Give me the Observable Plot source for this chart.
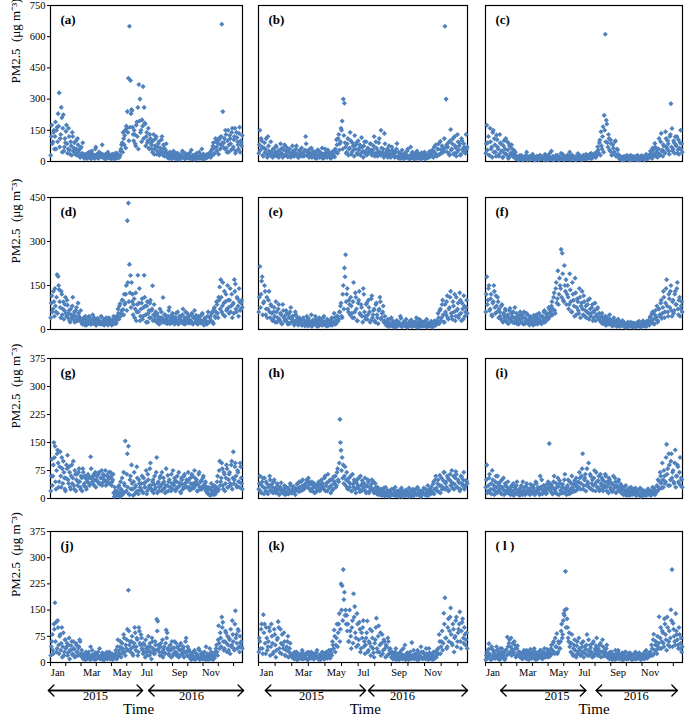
<!DOCTYPE html>
<html><head><meta charset="utf-8">
<script src="https://cdn.jsdelivr.net/npm/d3@7"></script>
<script src="https://cdn.jsdelivr.net/npm/@observablehq/plot@0.6"></script>
<style>
body{margin:0;background:#fff;}
#wrap{position:relative;width:685px;height:722px;overflow:hidden;font-family:"Liberation Serif","Times New Roman",serif;}
#wrap svg{position:absolute;}
</style></head><body><div id="wrap"></div>
<script>
// PM2.5 (ug m-3), Jan 2015 -> Dec 2016; two interleaved readings per 4-day step
const panelA = [30,175,95,150,120,60,165,230,330,110,260,45,225,70,90,175,40,160,55,95,30,120,65,45,100,30,80,55,20,70,40,
25,15,30,20,40,35,18,28,50,22,30,15,70,35,20,45,25,30,80,20,15,35,25,40,18,30,22,12,35,20,28,15,40,25,18,30,
60,90,140,80,150,170,240,400,650,390,250,165,
100,130,75,190,260,370,300,150,200,360,260,180,120,90,160,60,110,
80,45,130,60,110,35,70,95,40,55,120,30,65,45,85,
25,40,15,30,20,35,50,18,28,12,40,22,30,15,25,45,20,12,30,18,35,25,15,55,20,30,10,25,40,18,22,15,30,60,20,12,25,18,35,28,
30,45,25,60,90,40,110,70,100,35,115,80,660,240,
90,60,130,45,150,80,110,55,160,70,120,40,140,95,60,165,100,75];
const panelA2 = [120,85,140,60,190,150,95,170,70,130,210,160,50,110,145,85,60,120,35,75,140,50,90,35,60,110,45,25,65,35,90,
20,35,28,15,22,45,30,12,38,25,18,60,32,20,15,28,40,22,35,18,25,12,30,45,20,16,28,35,22,14,40,26,18,30,22,50,
80,45,110,125,65,160,140,100,165,230,245,130,
150,85,175,120,60,195,140,95,170,110,185,75,140,100,65,130,90,
60,100,35,75,120,50,85,30,65,105,45,80,25,55,40,
18,30,45,22,12,35,25,15,40,20,28,10,32,18,50,24,14,38,20,28,16,42,22,12,30,18,26,35,14,20,45,18,28,12,36,22,16,30,20,25,
40,20,55,75,35,65,95,50,85,105,60,120,90,70,
110,150,65,100,45,125,85,140,60,105,160,50,115,80,135,45,90,125];
const panelB = [40,150,110,70,25,90,60,35,120,50,30,
45,20,60,35,75,25,50,30,85,40,20,55,30,70,25,45,60,20,35,50,25,40,75,30,20,55,35,25,45,30,120,
30,50,20,40,65,25,35,18,45,30,55,20,35,40,15,30,60,25,20,45,30,15,40,25,50,
60,105,40,130,85,160,195,300,280,
70,45,110,60,140,35,90,55,125,80,40,100,65,30,115,50,75,40,95,35,60,45,
85,30,55,120,40,65,25,90,45,150,35,60,135,30,50,20,75,40,25,55,30,20,45,
86,25,15,40,20,30,12,35,20,50,15,25,70,18,30,12,40,22,15,35,25,10,30,20,45,15,28,18,35,22,
30,55,20,45,80,25,60,35,97,40,70,50,650,300,
45,90,30,154,60,110,40,75,25,130,55,85,35,100,50,70,40,60];
const panelB2 = [80,55,100,30,65,45,110,20,75,40,95,
30,60,25,45,70,35,20,55,40,65,28,80,35,50,22,60,40,30,75,25,45,60,35,20,50,40,65,30,25,55,85,
45,25,60,35,20,50,30,40,15,55,28,45,22,65,35,18,42,30,55,25,38,20,48,30,22,
45,80,110,55,95,150,60,125,90,
40,85,30,65,100,45,75,25,60,90,35,55,80,40,70,20,95,50,30,65,45,85,
55,40,75,25,95,35,50,110,30,65,45,20,85,40,60,30,50,20,70,35,45,25,60,
20,45,30,15,55,25,40,18,30,60,22,12,35,45,20,28,15,50,25,35,18,42,20,30,12,38,25,20,48,30,
45,25,70,40,30,60,85,35,55,75,45,110,65,80,
70,40,100,55,85,35,120,65,45,95,75,30,110,60,85,45,130,70];
const panelC = [40,174,90,30,160,60,20,150,110,45,127,70,25,130,85,50,20,100,60,35,95,15,75,40,80,25,55,30,
15,25,10,20,12,30,18,8,22,15,45,12,20,10,25,15,30,8,18,12,22,10,28,15,12,20,10,35,15,8,25,12,18,50,10,20,15,28,12,22,
8,18,40,15,25,10,20,12,30,15,45,10,18,25,12,20,8,22,15,30,12,18,10,25,15,35,12,20,28,15,40,18,25,30,20,45,
71,40,103,143,60,167,222,612,198,90,130,
55,103,30,80,45,95,25,60,35,
15,25,10,20,8,18,12,30,15,10,22,8,15,25,12,10,18,30,8,15,20,12,25,10,18,35,15,22,
30,50,20,65,35,87,25,60,40,110,30,135,55,80,45,143,70,100,50,120,278,159,60,90,119,75,40,105,65,150,85];
const panelC2 = [85,55,120,30,95,70,140,45,80,25,105,60,35,90,50,20,75,40,110,30,55,85,25,65,35,50,20,45,
12,20,8,28,15,10,22,18,12,30,8,15,25,10,18,35,12,20,8,25,15,10,30,18,22,12,8,20,28,15,10,40,18,12,25,8,20,15,30,10,
22,12,18,35,8,15,25,12,20,10,28,15,30,18,10,22,12,38,15,25,10,20,30,15,22,12,28,18,35,20,15,30,25,40,22,35,
55,90,30,75,120,45,150,95,180,70,110,50,85,35,65,45,100,30,55,25,
12,20,8,15,25,10,18,12,22,8,30,15,10,20,12,25,8,18,15,10,28,12,20,8,15,25,12,30,
25,40,15,55,30,70,45,20,60,35,95,50,25,75,40,110,60,85,35,130,70,50,100,40,80,120,55,35,90,60,45];
const panelD = [40,115,70,95,140,60,187,181,136,75,130,50,94,65,110,45,83,55,30,70,40,110,50,25,65,35,90,45,30,
25,18,35,20,45,15,28,22,40,18,30,50,20,25,15,35,22,28,18,45,20,30,15,25,40,18,22,35,20,15,28,45,25,20,
45,70,35,88,55,100,68,120,90,
150,371,431,222,184,
160,120,85,40,125,60,185,90,30,70,105,45,185,80,25,95,55,40,100,65,149,50,
35,60,25,45,20,70,30,40,109,25,50,35,20,45,75,30,22,55,35,18,40,28,60,20,35,45,25,70,30,18,40,55,22,35,28,50,20,40,65,25,30,18,45,35,22,50,28,15,40,30,20,60,
25,45,30,60,20,75,40,95,55,110,145,
170,60,160,90,45,120,70,100,55,140,80,40,90,170,155,60,105,45,95,70,100];
const panelD2 = [90,60,130,45,80,110,55,150,95,40,120,70,35,85,55,100,40,65,25,50,80,35,60,45,75,30,55,40,65,
30,22,40,15,28,35,20,45,25,18,32,22,40,28,15,38,25,30,20,42,18,28,35,22,30,15,40,25,20,32,18,38,28,22,
35,55,80,45,65,100,50,85,120,65,160,95,125,75,
95,50,105,70,30,85,60,140,45,90,35,75,110,50,80,25,65,90,40,70,30,85,
45,28,55,35,18,40,60,25,35,50,22,45,30,65,20,38,50,28,42,25,55,30,18,45,35,25,50,20,40,60,28,35,45,22,30,55,18,40,25,48,35,20,42,30,25,55,20,35,28,18,45,25,
40,30,55,25,70,45,60,85,40,100,70,
110,80,50,130,95,65,150,75,100,60,120,85,55,130,70,110,80,140,65,90,75];
const panelE = [60,215,120,180,90,150,50,110,70,130,40,
80,30,60,45,95,25,70,35,55,20,85,40,30,65,25,50,20,75,35,45,15,60,30,40,25,
20,35,15,40,25,18,45,12,30,22,50,15,28,20,35,10,25,40,18,30,15,45,22,12,35,20,28,15,40,25,55,18,30,45,35,
60,90,40,150,210,255,120,70,100,50,
80,40,160,60,110,30,90,130,50,75,25,120,45,85,35,100,60,30,115,50,70,25,90,40,65,110,35,55,80,30,
25,15,35,10,20,40,12,28,18,8,30,15,22,45,10,18,25,12,35,8,20,15,30,10,25,18,12,40,15,8,22,30,12,18,25,10,35,15,20,12,28,8,18,30,15,
30,55,20,70,40,100,25,85,50,115,35,75,130,45,95,60,30,110,70,40,125,55,90,35,80,60,100];
const panelE2 = [110,75,165,50,95,130,70,40,100,60,85,
55,35,75,25,60,40,85,30,50,20,65,45,35,55,18,40,60,25,45,30,20,50,35,15,40,
28,15,35,22,12,30,20,38,15,25,10,32,20,45,18,28,12,35,22,15,40,25,18,30,12,28,20,35,15,25,40,20,45,28,60,
80,45,120,70,180,95,140,60,85,110,
55,95,40,125,70,30,100,55,85,45,140,60,35,90,50,75,25,105,40,65,30,85,50,20,70,95,40,60,25,45,
15,28,10,20,35,12,22,8,18,30,12,25,15,38,10,20,28,12,18,8,25,15,32,10,20,14,28,8,22,35,12,18,10,25,15,30,8,20,12,25,18,10,22,15,28,
20,40,65,30,85,50,25,60,95,40,70,110,55,35,80,120,45,65,90,50,100,30,70,115,45,75,55];
const panelF = [60,180,100,150,70,120,45,95,130,55,80,110,40,
60,35,85,25,50,70,30,45,20,65,35,55,25,40,75,30,20,45,35,60,25,50,18,40,30,55,22,35,45,20,30,15,40,25,50,18,35,28,45,20,30,60,25,40,55,35,70,45,
80,50,110,65,140,90,200,120,150,273,260,100,218,130,85,
150,70,190,95,60,120,80,175,50,105,65,140,40,90,70,115,45,80,60,100,35,70,55,85,40,65,30,50,75,35,
40,25,55,30,20,45,15,35,25,50,18,30,12,40,22,28,15,35,10,25,18,30,12,20,8,15,25,10,18,12,22,8,15,20,10,25,12,18,8,15,30,12,20,10,25,
30,15,45,25,60,20,50,35,80,30,70,45,100,55,130,40,90,170,60,120,75,150,45,100,65,130,85,160,50,110,70,95];
const panelF2 = [120,85,140,65,105,50,90,150,75,115,60,95,70,
45,80,30,55,40,65,25,50,38,72,28,45,60,22,40,55,30,18,48,35,25,42,60,20,35,50,28,15,40,32,22,48,18,35,42,25,55,30,20,45,38,65,28,50,40,75,55,60,
95,70,125,55,160,105,85,175,140,110,190,95,150,170,120,
110,85,135,60,160,100,45,125,75,95,55,110,80,130,50,95,65,40,85,55,105,45,75,30,60,90,45,70,40,55,
30,45,20,38,28,15,42,25,18,35,22,12,30,20,25,10,32,15,22,12,18,28,10,20,14,8,18,12,25,10,15,22,12,8,18,14,28,10,20,15,12,22,18,28,15,
20,40,28,55,35,18,65,42,25,70,50,90,38,75,110,60,140,80,45,105,130,65,95,55,120,85,140,70,100,45,80,60];
const panelG = [20,105,60,150,140,25,120,95,45,125,30,80,100,55,20,90,
116,40,70,25,90,55,35,75,20,65,45,80,30,60,20,70,40,55,25,
45,60,35,112,55,40,65,50,30,60,45,70,40,55,35,65,50,75,45,60,40,55,70,35,50,
15,30,8,
20,10,35,5,25,55,15,40,154,20,120,140,10,60,90,25,45,12,35,85,20,50,30,
25,60,15,40,30,75,20,50,35,95,25,45,15,60,30,110,40,20,55,35,70,25,45,15,80,35,20,50,30,65,25,40,55,20,45,30,70,35,15,50,25,60,40,30,
45,70,30,55,25,60,40,75,35,50,20,65,30,45,25,55,35,40,20,
15,30,10,25,40,15,20,35,12,
30,60,25,100,45,95,35,70,20,55,80,30,65,40,90,25,125,50,95,35,75,45,30,85,40];
const panelG2 = [60,35,90,110,45,75,130,30,85,60,110,40,70,25,55,80,
50,85,30,60,40,100,25,65,50,35,70,45,25,55,80,35,60,30,50,
65,40,55,80,45,60,35,70,50,45,65,38,55,75,42,60,48,35,62,50,70,40,58,45,65,
5,20,12,
8,30,15,45,22,10,70,35,18,65,30,12,50,25,40,8,70,30,18,55,12,40,22,
40,18,55,30,45,12,65,28,80,35,20,50,38,25,70,15,45,30,60,20,40,55,28,35,18,62,45,30,20,40,75,35,48,25,60,30,42,18,55,38,28,65,32,50,
30,50,22,40,65,35,28,55,45,20,38,70,25,48,32,60,28,45,30,
22,12,28,8,20,32,10,25,18,
45,20,75,35,55,80,25,65,40,90,30,50,70,35,100,55,40,85,60,30,70,45,95,55,25];
const panelH = [25,60,15,45,30,55,20,40,12,35,50,18,30,45,22,15,40,25,10,30,20,
15,25,10,30,18,12,22,35,15,20,28,10,25,40,18,30,45,22,35,28,40,50,30,45,25,38,20,35,15,30,22,40,25,30,50,
40,25,60,35,20,45,30,15,50,25,40,60,35,80,45,212,129,110,90,60,35,70,
25,55,40,20,65,30,45,15,50,35,25,60,20,40,30,55,15,35,45,20,30,50,25,15,40,20,30,10,
15,25,8,20,12,30,10,18,5,22,15,10,25,8,18,12,20,5,15,28,10,18,8,22,12,15,5,20,10,25,8,15,12,30,10,18,5,20,15,12,25,8,35,15,20,
30,15,45,25,60,20,50,35,15,55,30,70,25,45,60,20,50,35,75,40,25,55,65,30,45,20,60,40,50,25,35,45];
const panelH2 = [40,20,35,55,12,28,45,18,30,60,22,38,15,50,28,20,35,12,25,42,18,
22,35,18,12,28,20,40,15,25,32,18,22,38,28,45,20,32,50,25,35,42,30,55,38,20,45,28,40,32,18,35,45,20,38,28,
30,55,20,42,65,28,50,35,22,58,45,30,70,50,95,150,75,55,40,85,50,28,
45,30,60,20,38,50,25,42,30,55,18,35,48,25,40,20,32,50,15,28,38,22,45,18,30,12,25,18,
10,20,12,28,6,15,22,10,18,8,25,12,15,30,8,20,10,15,25,5,18,12,22,8,15,28,10,18,6,20,12,25,10,15,22,8,18,12,28,10,15,20,8,25,12,
20,38,12,50,28,40,18,62,35,25,48,70,40,30,55,22,65,45,28,60,38,72,30,50,42,25,58,35,70,30,48,40];
const panelI = [30,90,20,55,15,40,75,25,10,45,30,60,20,35,15,50,25,10,40,20,30,
15,25,10,35,20,8,30,15,45,12,25,18,35,10,20,30,12,40,15,22,10,28,15,35,20,12,40,18,25,10,30,50,15,22,35,12,25,45,
147,
20,35,12,45,25,15,30,55,10,40,20,30,15,50,25,10,35,20,45,15,60,25,40,20,55,30,
45,70,25,60,120,35,55,20,80,40,30,65,25,50,35,75,20,45,30,60,25,40,55,20,35,65,30,45,15,50,25,40,20,35,55,15,30,45,20,25,
15,30,10,22,35,12,25,8,18,30,10,20,15,28,8,20,12,25,5,15,22,10,18,8,15,25,10,20,12,30,15,10,20,
35,50,25,70,40,95,30,60,45,145,80,120,35,100,55,75,40,130,60,90,45,70,35,50];
const panelI2 = [50,15,35,65,25,12,50,35,20,60,15,40,25,45,12,30,55,20,35,15,45,
22,12,30,18,40,10,25,35,12,20,8,28,15,45,22,10,32,18,25,12,38,20,15,28,10,45,22,30,15,60,25,12,35,20,28,15,40,30,
25,
38,15,28,60,20,40,12,32,48,22,15,38,28,65,18,30,50,12,25,40,30,18,48,35,22,42,
30,55,40,80,25,50,65,35,45,95,28,60,40,22,55,38,70,30,48,20,65,35,50,28,45,60,20,38,55,30,42,18,60,28,45,35,20,50,30,38,
25,12,30,18,8,22,15,28,10,20,12,25,18,8,15,22,10,28,12,18,8,20,15,10,25,12,18,8,22,15,28,12,18,
20,30,45,60,28,50,75,40,110,65,35,90,50,120,70,45,95,30,60,85,40,110,55,30];
const panelJ = [20,60,35,110,171,115,40,100,25,80,55,15,85,30,65,45,20,50,10,35,60,25,40,15,55,30,20,45,60,25,
15,10,25,8,20,12,30,15,45,10,22,18,8,25,12,30,15,10,20,28,12,8,18,25,10,15,30,12,20,8,15,
20,35,10,65,25,45,15,55,30,70,20,40,95,207,50,30,60,25,45,100,35,70,20,100,55,80,40,
25,50,15,40,30,75,20,45,10,60,35,25,50,124,118,40,20,55,30,15,45,25,93,85,35,20,50,15,40,25,60,30,20,45,15,35,55,25,40,15,30,70,20,35,
15,30,8,20,12,35,10,25,15,40,8,18,28,10,20,12,45,15,8,22,10,30,15,20,12,
25,50,20,105,40,70,130,115,35,60,85,30,50,70,25,45,120,60,35,148,80,40,90,30,55,45];
const panelJ2 = [45,80,25,95,60,30,120,50,75,35,100,45,20,65,40,55,28,70,35,48,22,60,38,18,50,30,42,65,20,35,
22,12,18,30,10,25,15,8,20,35,12,18,28,10,22,15,40,12,20,8,25,18,12,30,15,22,10,18,25,12,20,
12,28,45,18,35,60,25,40,80,30,50,65,35,90,60,40,75,20,55,85,45,65,30,90,50,70,35,
55,30,65,20,45,35,55,28,70,40,25,60,35,90,50,30,45,20,65,38,28,55,70,40,25,48,35,60,20,42,30,55,25,40,18,50,35,22,45,30,60,28,45,38,
20,10,25,15,30,8,18,22,12,35,15,25,10,20,30,8,18,25,12,40,15,22,8,18,30,
40,30,65,55,85,45,100,60,40,90,55,75,35,65,95,50,80,40,110,70,55,95,45,75,60,40];
const panelK = [30,60,95,40,137,110,25,70,45,100,20,110,55,30,80,15,65,117,40,95,25,50,85,20,35,60,15,40,25,
15,25,10,20,30,8,18,12,25,35,10,20,15,28,8,22,12,30,15,10,25,18,35,12,20,8,15,28,10,22,30,12,18,25,
35,20,50,93,30,70,45,110,60,225,220,
266,201,150,
135,110,60,90,40,120,197,160,70,140,50,115,30,85,100,45,
25,70,119,35,55,20,90,40,15,65,127,30,105,50,20,80,35,60,15,45,70,25,40,
15,30,10,22,40,12,25,8,18,35,10,20,50,15,28,8,22,12,57,18,10,25,15,35,8,20,45,12,30,15,10,25,18,40,12,22,8,30,15,20,35,
40,80,25,60,35,141,185,70,45,125,90,156,55,110,30,75,130,60,95,145,40,115,70,100,50,85];
const panelK2 = [70,40,110,25,85,55,100,35,60,90,45,75,25,95,50,35,70,100,28,55,80,40,60,20,45,75,30,55,20,
22,12,30,18,8,25,15,20,10,28,18,12,22,8,30,15,20,12,25,10,18,28,15,8,22,12,30,18,10,25,15,20,35,12,
28,60,40,75,50,110,85,140,95,150,120,180,135,110,
90,60,150,75,100,55,130,85,45,110,65,95,40,70,120,60,
50,85,30,60,95,45,70,28,55,100,40,75,30,85,55,25,65,40,50,20,60,35,28,
25,10,18,30,8,20,15,28,12,22,40,15,8,25,18,12,30,10,20,35,15,22,8,28,12,18,30,10,25,15,40,20,8,28,12,22,18,10,30,15,25,
25,60,45,90,55,110,70,40,100,60,130,80,50,95,70,120,45,85,110,60,90,125,55,80,65,40];
const panelL = [8,30,15,54,20,40,10,35,25,12,45,18,30,8,22,40,15,28,10,
35,73,25,65,45,20,55,30,50,15,40,25,30,
15,25,10,30,18,12,35,20,8,25,15,30,12,40,18,22,10,28,15,35,20,12,30,18,25,38,15,
30,20,50,35,60,25,45,83,30,55,
40,90,70,120,135,261,153,100,60,45,
30,80,20,50,35,15,60,25,40,20,55,30,15,45,25,80,35,20,50,30,15,60,25,40,70,20,35,50,15,30,45,25,20,40,
15,25,10,20,30,12,18,8,25,15,35,10,20,12,28,8,18,30,15,10,22,12,25,8,20,15,30,10,18,12,25,8,15,22,10,20,35,12,25,18,
30,50,20,81,35,60,25,45,131,70,40,90,55,125,80,35,100,60,45,151,266,112,75,50,90,65,40,80,55,30];
const panelL2 = [20,12,38,25,8,45,18,30,12,22,35,10,25,40,15,30,20,8,35,
20,45,55,30,70,38,25,60,40,20,48,30,18,
28,12,22,35,15,25,10,30,20,38,12,25,18,32,8,28,20,15,35,22,10,28,40,15,25,20,32,
18,40,25,55,30,70,45,25,60,40,
60,110,80,140,150,100,125,70,85,55,
55,25,40,65,20,48,30,70,35,22,45,60,28,38,50,20,65,30,42,25,55,18,35,48,28,40,22,55,30,65,18,35,28,50,
25,12,30,18,8,22,15,35,10,20,28,12,18,8,25,15,30,10,20,12,28,18,8,22,15,10,25,12,20,28,15,10,22,18,30,12,20,15,28,22,
20,40,65,25,50,35,75,55,40,100,60,85,45,110,65,130,50,90,70,120,45,95,60,140,80,50,100,40,70,45];

const panelLabels = ["(a)","(b)","(c)","(d)","(e)","(f)","(g)","(h)","(i)","(j)","(k)","( l )"];
const rowYMax = [750, 450, 375, 375];
const rowYTicks = [[0,150,300,450,600,750],[0,150,300,450],[0,75,150,225,300,375],[0,75,150,225,300,375]];
const yTitle = "PM2.5  (μg m⁻³)";
const xTickDays = [0,58,116,174,232,290,348,406,464,522,580,638,696];
const monthLabels = ["Jan","Mar","May","Jul","Sep","Nov"];
const monthDays = [28,157,272,367,491,610];
const yearLabels = ["2015","2016"];
// per bottom panel: arrow spans [start,end] in days, year label days, "Time" day
const yearArrows = [[[-8,350],[373,734]], [[24,374],[384,730]], [[56,372],[410,711]]];
const yearLabelDays = [[171,536],[185,503],[265,559]];
const timeDay = [335,373,402];

const panels = [[panelA,panelA2],[panelB,panelB2],[panelC,panelC2],[panelD,panelD2],[panelE,panelE2],[panelF,panelF2],
                [panelG,panelG2],[panelH,panelH2],[panelI,panelI2],[panelJ,panelJ2],[panelK,panelK2],[panelL,panelL2]];
const cols = [{l:50,r:242},{l:258,r:467},{l:485,r:682}];
const rows = [{t:5,b:161},{t:197,b:329},{t:358,b:498},{t:531,b:662}];
const blue = "#4F81BD";
const wrap = document.getElementById("wrap");

panels.forEach(([v1, v2], k) => {
  const row = Math.floor(k/3), col = k%3;
  const C = cols[col], R = rows[row];
  const step1 = 730/v1.length, step2 = 730/v2.length;
  const data = v1.map((v,i) => ({day:(i+0.25)*step1, v}))
    .concat(v2.map((v,i) => ({day:(i+0.75)*step2, v})));
  const mL = col === 0 ? 50 : 3, mR = 3, mT = 3, mB = row === 3 ? 60 : 3;
  const bottom = row === 3;
  const marks = [
    Plot.frame({stroke:"#000", strokeWidth:1.2}),
    Plot.dot(data, {x:"day", y:"v", symbol:"diamond2", r:2.3, fill:blue, stroke:"none"}),
    Plot.text([panelLabels[k]], {frameAnchor:"top-left", dx:10, dy:14, lineAnchor:"middle", textAnchor:"start", fontWeight:"bold", fontSize:13})
  ];
  if (col === 0) {
    marks.push(Plot.text([yTitle], {frameAnchor:"left", rotate:-90, dx:-35, fontSize:13}));
  }
  if (bottom) {
    marks.push(Plot.text(monthLabels, {x:(d,i)=>monthDays[i], frameAnchor:"bottom", dy:13, fontSize:10.5}));
    yearArrows[col].forEach(([s,e]) => {
      marks.push(Plot.arrow([{s,e}], {x1:"s", x2:"e", y1:()=>0, y2:()=>0, dy:28, stroke:"#000", strokeWidth:1.3, headLength:9, headAngle:90}));
      marks.push(Plot.arrow([{s,e}], {x1:"e", x2:"s", y1:()=>0, y2:()=>0, dy:28, stroke:"#000", strokeWidth:1.3, headLength:9, headAngle:90}));
    });
    marks.push(Plot.text(yearLabels, {x:(d,i)=>yearLabelDays[col][i], frameAnchor:"bottom", dy:37, fontSize:12.5}));
    marks.push(Plot.text(["Time"], {x:()=>timeDay[col], frameAnchor:"bottom", dy:51, fontSize:15}));
  }
  const chart = Plot.plot({
    width: mL + (C.r - C.l) + mR,
    height: mT + (R.b - R.t) + mB,
    marginLeft: mL, marginRight: mR, marginTop: mT, marginBottom: mB,
    style: {fontFamily:'"Liberation Serif","Times New Roman",serif', fontSize:"10.5px", color:"#000", background:"transparent", overflow:"visible"},
    x: bottom ? {domain:[0,730], ticks:xTickDays, tickFormat:()=>"", tickSize:4, label:null}
              : {domain:[0,730], axis:null},
    y: col === 0 ? {domain:[0,rowYMax[row]], ticks:rowYTicks[row], tickSize:3, tickPadding:2, label:null}
                 : {domain:[0,rowYMax[row]], axis:null},
    marks
  });
  chart.style.left = (C.l - mL) + "px";
  chart.style.top = (R.t - mT) + "px";
  wrap.appendChild(chart);
});
</script>
</body></html>
